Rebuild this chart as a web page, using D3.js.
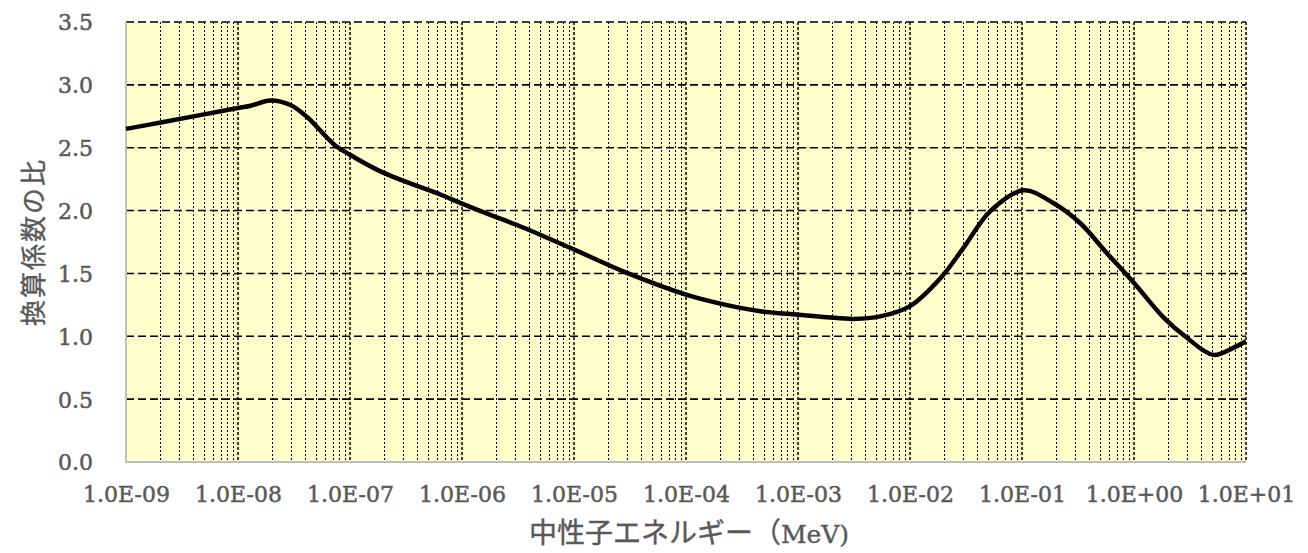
<!DOCTYPE html>
<html>
<head>
<meta charset="utf-8">
<script src="https://cdn.jsdelivr.net/npm/d3@7"></script>
<style>
  html, body { margin: 0; padding: 0; background: #fff; }
  svg { display: block; }
</style>
</head>
<body>
<svg id="chart" width="1308" height="553"></svg>
<script>
// Neutron energy (MeV) and the ratio of conversion coefficients
const energies = [1e-9, 2.04e-9, 1e-8, 1.3e-8, 1.95e-8, 2.94e-8, 4.14e-8, 7.16e-8, 1e-7,
  1.87e-7, 3.7e-7, 6.41e-7, 1e-6, 1.79e-6, 3.1e-6, 1e-5, 2.97e-5, 1e-4, 2.02e-4, 4.6e-4, 1e-3,
  1.81e-3, 3.13e-3, 5.42e-3, 1e-2, 1.86e-2, 3.0e-2, 5.19e-2, 1.03e-1, 1.9e-1, 3.3e-1,
  5.71e-1, 1.0, 1.85, 2.95, 5.1, 7.7, 10];
const ratios = [2.65, 2.70, 2.816, 2.834, 2.876, 2.84, 2.744, 2.528, 2.444,
  2.312, 2.206, 2.128, 2.055, 1.965, 1.885, 1.69, 1.504, 1.331, 1.26, 1.199, 1.172,
  1.152, 1.138, 1.158, 1.24, 1.46, 1.703, 1.994, 2.161, 2.06, 1.901,
  1.663, 1.424, 1.146, 0.99, 0.852, 0.908, 0.96];

const yTicks = [0, 0.5, 1.0, 1.5, 2.0, 2.5, 3.0, 3.5];
const xTicks = [1e-9, 1e-8, 1e-7, 1e-6, 1e-5, 1e-4, 1e-3, 1e-2, 1e-1, 1e0, 1e1];
const xTickLabels = ["1.0E-09", "1.0E-08", "1.0E-07", "1.0E-06", "1.0E-05", "1.0E-04",
  "1.0E-03", "1.0E-02", "1.0E-01", "1.0E+00", "1.0E+01"];

const yTitle = "換算係数の比";
const xTitleJa = "中性子エネルギー（";
const xTitleUnit = "MeV)";

const plotL = 126, plotR = 1246, plotT = 22, plotB = 462;
const svg = d3.select("#chart");

const x = d3.scaleLog().domain([1e-9, 10]).range([plotL, plotR]);
const y = d3.scaleLinear().domain([0, 3.5]).range([plotB, plotT]);

const textColor = "#595959";
const serif = "'DejaVu Serif', 'Liberation Serif', serif";
const cjk = "'Noto Sans CJK JP', 'Noto Sans CJK SC', sans-serif";

// plot background
svg.append("rect")
  .attr("x", plotL).attr("y", plotT)
  .attr("width", plotR - plotL).attr("height", plotB - plotT)
  .attr("fill", "#FFFFCC");

// minor vertical gridlines (2..9 within each decade)
const minor = [];
for (let e = -9; e < 1; e++) {
  for (let m = 2; m <= 9; m++) minor.push(m * Math.pow(10, e));
}
svg.append("g")
  .selectAll("line").data(minor).join("line")
  .attr("x1", d => Math.round(x(d)) + 0.5).attr("x2", d => Math.round(x(d)) + 0.5)
  .attr("y1", plotT).attr("y2", plotB)
  .attr("stroke", "#000").attr("stroke-width", 1)
  .attr("stroke-dasharray", "2,2");

// decade gridlines
svg.append("g")
  .selectAll("line").data(xTicks.slice(1)).join("line")
  .attr("x1", d => x(d)).attr("x2", d => x(d))
  .attr("y1", plotT).attr("y2", plotB)
  .attr("stroke", "#000").attr("stroke-width", 1.5)
  .attr("stroke-dasharray", "3,2");

// horizontal gridlines
svg.append("g")
  .selectAll("line").data(yTicks.slice(1)).join("line")
  .attr("x1", plotL).attr("x2", plotR)
  .attr("y1", d => y(d)).attr("y2", d => y(d))
  .attr("stroke", "#000").attr("stroke-width", 1.6)
  .attr("stroke-dasharray", "8,4");

// axis lines
svg.append("line")
  .attr("x1", plotL).attr("x2", plotL).attr("y1", plotT).attr("y2", plotB + 1)
  .attr("stroke", "#bfbfbf").attr("stroke-width", 2);
svg.append("line")
  .attr("x1", plotL - 1).attr("x2", plotR).attr("y1", plotB).attr("y2", plotB)
  .attr("stroke", "#bfbfbf").attr("stroke-width", 2);

// y-axis tick labels
const yAxis = d3.axisLeft(y).tickValues(yTicks).tickFormat(d3.format(".1f"))
  .tickSize(0).tickPadding(33);
svg.append("g").attr("transform", `translate(${plotL},0)`).call(yAxis)
  .call(g => g.select(".domain").remove())
  .call(g => g.selectAll("text")
    .attr("fill", textColor).attr("stroke", textColor).attr("stroke-width", 0.5)
    .attr("font-family", serif).attr("font-size", 22).attr("dy", "0.36em"));

// x-axis tick labels
const xAxis = d3.axisBottom(x).tickValues(xTicks)
  .tickFormat((d, i) => xTickLabels[i]).tickSize(0).tickPadding(32);
svg.append("g").attr("transform", `translate(0,${plotB})`).call(xAxis)
  .call(g => g.select(".domain").remove())
  .call(g => g.selectAll("text")
    .attr("fill", textColor).attr("stroke", textColor).attr("stroke-width", 0.5)
    .attr("font-family", serif).attr("font-size", 22).attr("dy", "0.36em"));

// data line
const line = d3.line()
  .x((d, i) => x(energies[i]))
  .y(d => y(d))
  .curve(d3.curveCatmullRom.alpha(0.5));
svg.append("path")
  .datum(ratios)
  .attr("d", line)
  .attr("fill", "none")
  .attr("stroke", "#000")
  .attr("stroke-width", 4.5)
  .attr("stroke-linejoin", "round");

// axis titles
svg.append("text")
  .attr("transform", `translate(31,${(plotT + plotB) / 2}) rotate(-90)`)
  .attr("text-anchor", "middle").attr("dominant-baseline", "central")
  .attr("fill", textColor).attr("stroke", textColor).attr("stroke-width", 0.4)
  .attr("font-family", cjk).attr("font-size", 26)
  .attr("letter-spacing", 2)
  .text(yTitle);

const xt = svg.append("text")
  .attr("x", (plotL + plotR) / 2 + 3).attr("y", 543)
  .attr("text-anchor", "middle")
  .attr("fill", textColor).attr("stroke", textColor).attr("stroke-width", 0.4)
  .attr("font-size", 28);
xt.append("tspan").attr("font-family", cjk).text(xTitleJa);
xt.append("tspan").attr("font-family", serif).attr("font-size", 25).text(xTitleUnit);
</script>
</body>
</html>
